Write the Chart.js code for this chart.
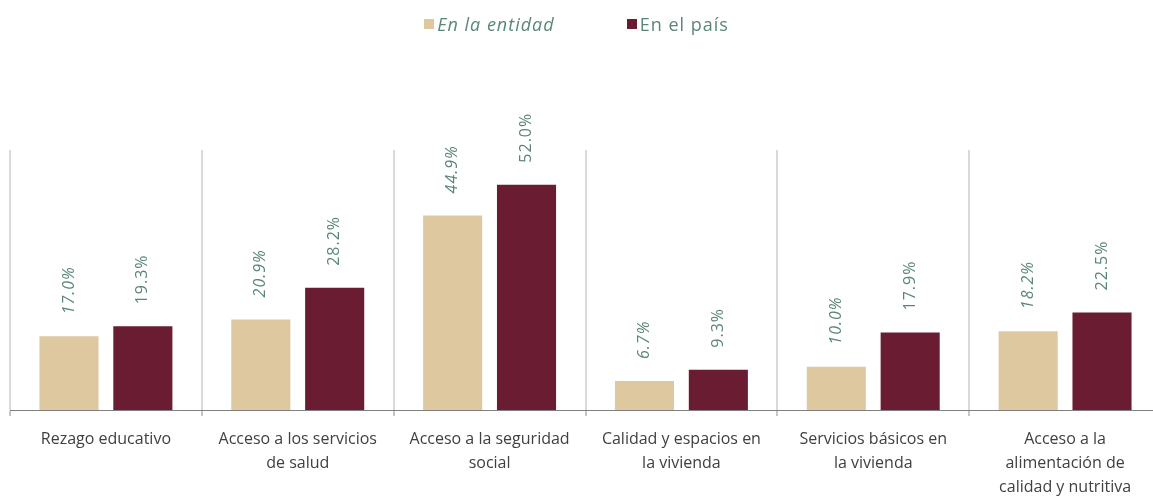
<!DOCTYPE html>
<html lang="es">
<head>
<meta charset="utf-8">
<title>Carencias sociales</title>
<script src="https://cdn.jsdelivr.net/npm/chart.js@4.4.1/dist/chart.umd.min.js"></script>
<style>
  html, body { margin: 0; padding: 0; background: #fff; overflow: hidden; }
  #wrap { position: relative; width: 1162px; height: 496px; }
  #legend {
    position: absolute; top: 12px; left: 0; width: 1153px;
    display: flex; justify-content: center; gap: 72px;
    font-family: "Open Sans", sans-serif; font-size: 18px; letter-spacing: 1px; color: #5a8679;
  }
  #legend .item { display: flex; align-items: center; }
  #legend .box { width: 10px; height: 10px; margin-right: 3px; }
</style>
</head>
<body>
<div id="wrap">
  <div id="legend"></div>
  <canvas id="chart"></canvas>
</div>
<script>
// Categorias (eje x)
const categorias = [
    ["Rezago educativo"],
    ["Acceso a los servicios", "de salud"],
    ["Acceso a la seguridad", "social"],
    ["Calidad y espacios en", "la vivienda"],
    ["Servicios básicos en", "la vivienda"],
    ["Acceso a la", "alimentación de", "calidad y nutritiva"]
];

// Porcentajes
const enLaEntidad = [17.0, 20.9, 44.9, 6.7, 10.0, 18.2];
const enElPais = [19.3, 28.2, 52.0, 9.3, 17.9, 22.5];

const colorEntidad = '#ddc8a0';
const colorPais = '#691c32';
const colorEtiqueta = '#5a8679';

// Etiquetas de valor verticales sobre las barras
const etiquetasPlugin = {
    id: 'etiquetas',
    afterDatasetsDraw(chart) {
        const ctx = chart.ctx;
        chart.data.datasets.forEach((ds, i) => {
            const meta = chart.getDatasetMeta(i);
            meta.data.forEach((bar, j) => {
                ctx.save();
                ctx.translate(bar.x, bar.y - 22);
                ctx.rotate(-Math.PI / 2);
                ctx.font = (i === 0 ? 'italic ' : '') + '16px "Open Sans", sans-serif';
                ctx.letterSpacing = '1px';
                ctx.fillStyle = colorEtiqueta;
                ctx.textAlign = 'left';
                ctx.textBaseline = 'middle';
                ctx.fillText(ds.data[j].toFixed(1) + '%', 0, 0);
                ctx.restore();
            });
        });
    }
};

const chart = new Chart(document.getElementById('chart'), {
    type: 'bar',
    data: {
        labels: categorias,
        datasets: [
            { label: 'En la entidad', data: enLaEntidad, backgroundColor: colorEntidad },
            { label: 'En el país', data: enElPais, backgroundColor: colorPais }
        ]
    },
    options: {
        responsive: true,
        maintainAspectRatio: false,
        animation: false,
        categoryPercentage: 0.77,
        barPercentage: 0.8,
        layout: { padding: { top: 150, left: 10, right: 1, bottom: -14 } },
        plugins: {
            legend: { display: false },
            tooltip: { enabled: false }
        },
        scales: {
            x: {
                offset: true,
                grid: {
                    offset: true,
                    color: '#d9d9d9',
                    lineWidth: 2,
                    tickColor: '#8c8c8c',
                    tickLength: 6,
                    tickWidth: 1
                },
                border: { color: '#7f7f7f', width: 1 },
                ticks: {
                    maxRotation: 0,
                    autoSkip: false,
                    padding: 11,
                    color: '#404040',
                    font: { family: '"Open Sans", sans-serif', size: 16, lineHeight: 1.5 }
                }
            },
            y: {
                display: false,
                min: 0,
                max: 60
            }
        }
    },
    plugins: [etiquetasPlugin]
});

// Leyenda en HTML (primer elemento en cursiva)
const legend = document.getElementById('legend');
chart.data.datasets.forEach((ds, i) => {
    const item = document.createElement('div');
    item.className = 'item';
    const box = document.createElement('span');
    box.className = 'box';
    box.style.background = ds.backgroundColor;
    const txt = document.createElement('span');
    txt.textContent = ds.label;
    if (i === 0) txt.style.fontStyle = 'italic';
    item.appendChild(box);
    item.appendChild(txt);
    legend.appendChild(item);
});
</script>
</body>
</html>
